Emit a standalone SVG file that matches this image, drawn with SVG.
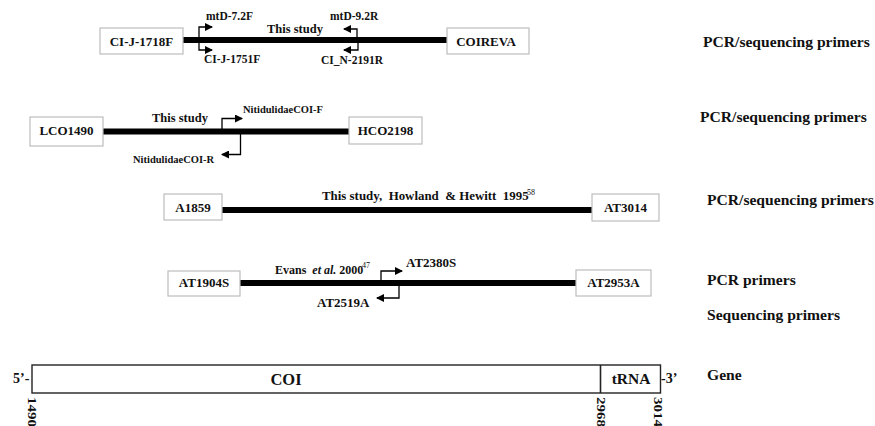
<svg xmlns="http://www.w3.org/2000/svg" width="875" height="426" viewBox="0 0 875 426">
<style>
text{font-family:'Liberation Serif','Times New Roman',Tinos,'DejaVu Serif',serif;font-weight:700;fill:#111;white-space:pre}
.box{fill:#fff;stroke:#bdbdbd;stroke-width:1.2}
.bl{font-size:13px;text-anchor:middle}
.bar{stroke:#000;stroke-width:6;fill:none}
.pr{stroke:#000;stroke-width:1.3;fill:none}
.pl{font-size:11.5px}
.nl{font-size:10.5px}
.st{font-size:12.5px}
.rl{font-size:15.6px}
.sup{font-size:8px;font-weight:400;fill:#111}
.gene{fill:#fff;stroke:#222;stroke-width:1.4}
.num{font-size:12px}
</style>
<defs>
<marker id="ah" viewBox="0 0 8 8" refX="7" refY="4" markerWidth="8" markerHeight="8" markerUnits="userSpaceOnUse" orient="auto">
<path d="M0,0 L8,4 L0,8 Z" fill="#000"/>
</marker>
</defs>
<rect width="875" height="426" fill="#fff"/>

<g id="connectors">
<line class="bar" x1="183" y1="40" x2="447" y2="40"/>
<path class="pr" d="M199,40 V27 H212" marker-end="url(#ah)"/>
<path class="pr" d="M199,40 V50 H212" marker-end="url(#ah)"/>
<path class="pr" d="M357,40 V29 H344" marker-end="url(#ah)"/>
<path class="pr" d="M358,40 V50 H344" marker-end="url(#ah)"/>

<line class="bar" x1="103" y1="131.5" x2="349" y2="131.5"/>
<path class="pr" d="M222,131 V118.5 H242" marker-end="url(#ah)"/>
<path class="pr" d="M240.5,132 V154.5 H222" marker-end="url(#ah)"/>

<line class="bar" x1="221" y1="210" x2="592" y2="210"/>

<line class="bar" x1="235" y1="283" x2="577" y2="283"/>
<path class="pr" d="M381,283 V271 H402" marker-end="url(#ah)"/>
<path class="pr" d="M399,283 V298 H377" marker-end="url(#ah)"/>
</g>

<g id="row1">
<g id="n-CIJ1718F"><rect class="box" x="100" y="28" width="83" height="26"/><text class="bl" x="141.5" y="46">CI-J-1718F</text></g>
<g id="n-COIREVA"><rect class="box" x="447" y="28" width="82" height="26"/><text class="bl" x="486" y="46">COIREVA</text></g>
<g id="n-mtD72F"><text class="pl" x="206" y="20">mtD-7.2F</text></g>
<g id="n-CIJ1751F"><text class="pl" x="204" y="63">CI-J-1751F</text></g>
<g id="n-mtD92R"><text class="pl" x="330" y="20">mtD-9.2R</text></g>
<g id="n-CIN2191R"><text class="pl" x="321" y="64">CI_N-2191R</text></g>
<text class="st" x="267" y="33">This study</text>
<text class="rl" x="703" y="47">PCR/sequencing primers</text>
</g>

<g id="row2">
<g id="n-LCO1490"><rect class="box" x="30" y="117" width="73" height="29"/><text class="bl" x="66.5" y="135">LCO1490</text></g>
<g id="n-HCO2198"><rect class="box" x="349" y="117" width="73" height="27"/><text class="bl" x="385.5" y="135">HCO2198</text></g>
<g id="n-NitF"><text class="nl" x="243" y="113">NitidulidaeCOI-F</text></g>
<g id="n-NitR"><text class="nl" x="133" y="163">NitidulidaeCOI-R</text></g>
<text class="st" x="152" y="122">This study</text>
<text class="rl" x="700" y="122">PCR/sequencing primers</text>
</g>

<g id="row3">
<g id="n-A1859"><rect class="box" x="164" y="194" width="58" height="26"/><text class="bl" x="193" y="212">A1859</text></g>
<g id="n-AT3014"><rect class="box" x="592" y="194" width="67" height="27"/><text class="bl" x="625.5" y="212">AT3014</text></g>
<text style="font-size:12.9px" x="322" y="200">This study,  Howland  &amp; Hewitt  1995</text>
<text class="sup" x="527" y="195">58</text>
<text class="rl" x="707" y="205">PCR/sequencing primers</text>
</g>

<g id="row4">
<g id="n-AT1904S"><rect class="box" x="168" y="271" width="72" height="25"/><text class="bl" x="204" y="287">AT1904S</text></g>
<g id="n-AT2953A"><rect class="box" x="576" y="270" width="75" height="26"/><text class="bl" x="613.5" y="287">AT2953A</text></g>
<g id="n-AT2380S"><text class="bl" style="text-anchor:start" x="406" y="267">AT2380S</text></g>
<g id="n-AT2519A"><text class="bl" style="text-anchor:start" x="317" y="307">AT2519A</text></g>
<text style="font-size:12px" x="275" y="274">Evans  <tspan font-style="italic">et al.</tspan> 2000</text>
<text class="sup" x="362" y="268">47</text>
<text class="rl" x="707" y="285">PCR primers</text>
<text class="rl" x="707" y="320">Sequencing primers</text>
</g>

<g id="gene">
<rect class="gene" x="32" y="365" width="628.5" height="28"/>
<line x1="600.5" y1="365" x2="600.5" y2="393" stroke="#222" stroke-width="1.6"/>
<text style="font-size:16.5px;text-anchor:middle" x="286" y="385">COI</text>
<text style="font-size:15.5px;text-anchor:middle" x="631" y="384">tRNA</text>
<text style="font-size:14px" x="13" y="383">5’-</text>
<text style="font-size:14px" x="661" y="383">-3’</text>
<text class="num" transform="translate(28,397) rotate(90)" textLength="30" lengthAdjust="spacingAndGlyphs">1490</text>
<text class="num" transform="translate(597,397) rotate(90)" textLength="30" lengthAdjust="spacingAndGlyphs">2968</text>
<text class="num" transform="translate(653.5,397) rotate(90)" textLength="30" lengthAdjust="spacingAndGlyphs">3014</text>
<text class="rl" x="707" y="380">Gene</text>
</g>
</svg>
